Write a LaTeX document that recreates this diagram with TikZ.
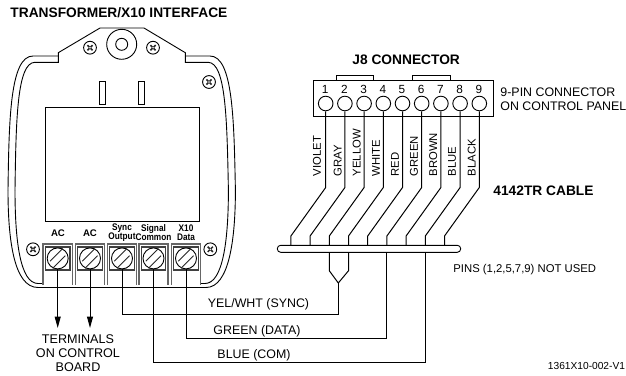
\documentclass[tikz,border=0pt]{standalone}
\usepackage{fontspec}
\setmainfont{Liberation Sans}
\usetikzlibrary{arrows.meta}
\tikzset{
  x=1pt,y=-1pt,
  every path/.style={line width=0.9pt,line join=miter},
  txt/.style={inner sep=0pt,font=\fontsize{12.4}{14}\selectfont},
  bold/.style={inner sep=0pt,font=\fontsize{13.75}{15}\selectfont\bfseries},
  vlabel/.style={inner sep=0pt,font=\fontsize{11.3}{13}\selectfont,rotate=90,anchor=west},
  tiny lab/.style={inner sep=0pt,align=center,font=\fontsize{9.6}{8.8}\selectfont\bfseries},
  pinhole/.style={circle,draw,inner sep=0pt,minimum size=14.6pt,fill=white},
  tscrew/.style={circle,draw,inner sep=0pt,minimum size=21pt,fill=white},
  wire/.style={line width=1pt},
  frame/.style={draw=black!60,line width=1.6pt},
  square/.style={draw=black!75,line width=1.3pt,fill=white},
}
\newcommand{\xscrew}[2]{%
  \draw[fill=white] (#1,#2) circle[radius=6.4];
  \draw[line width=1.5pt,black!85] (#1-2.6,#2-2.6) -- (#1+2.6,#2+2.6) (#1-2.6,#2+2.6) -- (#1+2.6,#2-2.6);
  \fill[white] (#1,#2) circle[radius=0.8];
}
\begin{document}
\begin{tikzpicture}
\useasboundingbox (0,0) rectangle (626,375);
\fill[white] (0,0) rectangle (626,375);

% --- housing ---
\draw (8,190) .. controls (9,120) and (10,56) .. (33,56) -- (58.3,56);
\draw (15,190) .. controls (16,120) and (17,62.3) .. (35,62.3) -- (58.3,62.3) -- (58.3,52.7) -- (100,28) -- (144,28) -- (185.3,52.7) -- (185.3,62.3) -- (208,62.3) .. controls (226,62.3) and (227,120) .. (228.4,190);
\draw (185.3,56) -- (210,56) .. controls (233,56) and (234,120) .. (235.4,190);
\draw (8,190) .. controls (8,240) and (14,287.5) .. (38,287.5) -- (206,287.5) .. controls (229,287.5) and (235.4,240) .. (235.4,190);
\draw (15,190) .. controls (15,240) and (20,283.5) .. (38,283.5) -- (43,283.5);
\draw (228.4,190) .. controls (228.4,240) and (223,283.5) .. (205,283.5) -- (200.5,283.5);
\draw (121.7,44.3) circle[radius=15];
\draw (121.7,44.3) circle[radius=6];
\draw (99,81) rectangle (105.7,104);
\draw (138.3,81) rectangle (144.3,104);
\draw (45.7,107.3) rectangle (199.3,221.7);
\xscrew{90}{47.7}
\xscrew{153}{47.7}
\xscrew{209}{82}
\xscrew{33}{249.3}
\xscrew{210.3}{249.3}

% --- terminal blocks ---
\foreach \i/\cx in {1/57.7,2/90,3/122,4/153.5,5/186}{
  \draw[frame] (\cx-14.6,284.5) -- (\cx-14.6,244) -- (\cx+14.6,244) -- (\cx+14.6,284.5);
  \draw[square] (\cx-12.2,247) rectangle (\cx+12.2,270);
  \node[tscrew] (t\i) at (\cx,258.4) {};
  \draw[black!85] (\cx-7.6,261.2) -- (\cx+5,248.6) (\cx-5,268.2) -- (\cx+7.6,255.6);
}
\node[tiny lab] (lac1) at (58,233) {AC};
\node[tiny lab] (lac2) at (90,233) {AC};
\node[tiny lab] (lsync) at (122,232.5) {\scalebox{.86}[1]{Sync}\\\scalebox{.86}[1]{Output}};
\node[tiny lab] (lsig) at (153.5,232.5) {\scalebox{.86}[1]{Signal}\\\scalebox{.86}[1]{Common}};
\node[tiny lab] (lx10) at (186,232.5) {\scalebox{.86}[1]{X10}\\\scalebox{.86}[1]{Data}};

% --- J8 connector ---
\draw (336,80.7) -- (336,75.7) -- (373.5,75.7) -- (373.5,80.7);
\draw (412.7,80.7) -- (412.7,75.7) -- (450,75.7) -- (450,80.7);
\draw (313.5,80.7) rectangle (493,116.7);
\node[draw,rounded corners=3.4pt,fill=white,inner sep=0pt,minimum width=183.4pt,minimum height=7pt] (bar) at (369,248.8) {};
\foreach \i/\name/\lx in {1/VIOLET/317,2/GRAY/337.7,3/YELLOW/356.7,4/WHITE/376,5/RED/395,6/GREEN/414,7/BROWN/433.3,8/BLUE/452,9/BLACK/471.7}{
  \pgfmathsetmacro{\px}{325.7+19.2*(\i-1)}
  \pgfmathsetmacro{\fx}{290.9+19.2*(\i-1)}
  \node[pinhole] (p\i) at (\px,103.5) {};
  \node[inner sep=0pt,font=\fontsize{11.8}{13}\selectfont] (n\i) at (\px-0.5,89) {\i};
  \coordinate (b\i) at (\px,187.5);
  \coordinate (d\i) at (\fx,236);
  \coordinate (f\i) at (\fx,245.3);
  \draw[wire] (p\i.south) -- (b\i) -- (d\i) -- (f\i);
  \node[vlabel] (v\i) at (\lx,176.7) {\name};
}

% --- cable tails ---
\coordinate (s3) at (f3 |- bar.south);
\coordinate (s4) at (f4 |- bar.south);
\coordinate (merge) at (338.3,283);
\coordinate (syncend) at (338.3,314);
\coordinate (dataend) at (386,338);
\coordinate (comend) at (425,362.7);
\draw[wire] (s3) -- ++(0,18) -- (merge);
\draw[wire] (s4) -- ++(0,18) -- (merge);
\draw[wire] (merge) -- (syncend) -- (syncend -| t3) -- (t3.south);
\draw[wire] (dataend |- bar.south) -- (dataend) -- (dataend -| t5) -- (t5.south);
\draw[wire] (comend |- bar.south) -- (comend) -- (comend -| t4) -- (t4.south);

% --- AC arrows ---
\coordinate (a1) at (57.7,328);
\coordinate (a2) at (90,328);
\draw[wire,-{Triangle[length=11.5pt,width=6pt]}] (t1.south) -- (a1);
\draw[wire,-{Triangle[length=11.5pt,width=6pt]}] (t2.south) -- (a2);

% --- text ---
\node[bold,anchor=west] (title) at (10,13) {TRANSFORMER/X10 INTERFACE};
\node[bold,anchor=west] (j8) at (352,59.5) {J8 CONNECTOR};
\node[txt,anchor=west] (pin9a) at (500,92) {9-PIN CONNECTOR};
\node[txt,anchor=west] (pin9b) at (500,106) {ON CONTROL PANEL};
\node[bold,anchor=west] (cable) at (493,191) {4142TR CABLE};
\node[inner sep=0pt,anchor=west,font=\fontsize{11.3}{13}\selectfont] (pins) at (453,270) {PINS (1,2,5,7,9) NOT USED};
\node[inner sep=0pt,anchor=east,font=\fontsize{10.2}{12}\selectfont] (code) at (625.5,366) {1361X10-002-V1};
\node[inner sep=0pt,align=center,font=\fontsize{12.6}{14}\selectfont] (term) at (78,353) {TERMINALS\\ON CONTROL\\BOARD};
\node[txt] (sync) at (258.5,304) {YEL/WHT (SYNC)};
\node[txt] (data) at (257,331) {GREEN (DATA)};
\node[txt] (com) at (254,355) {BLUE (COM)};
\end{tikzpicture}
\end{document}
